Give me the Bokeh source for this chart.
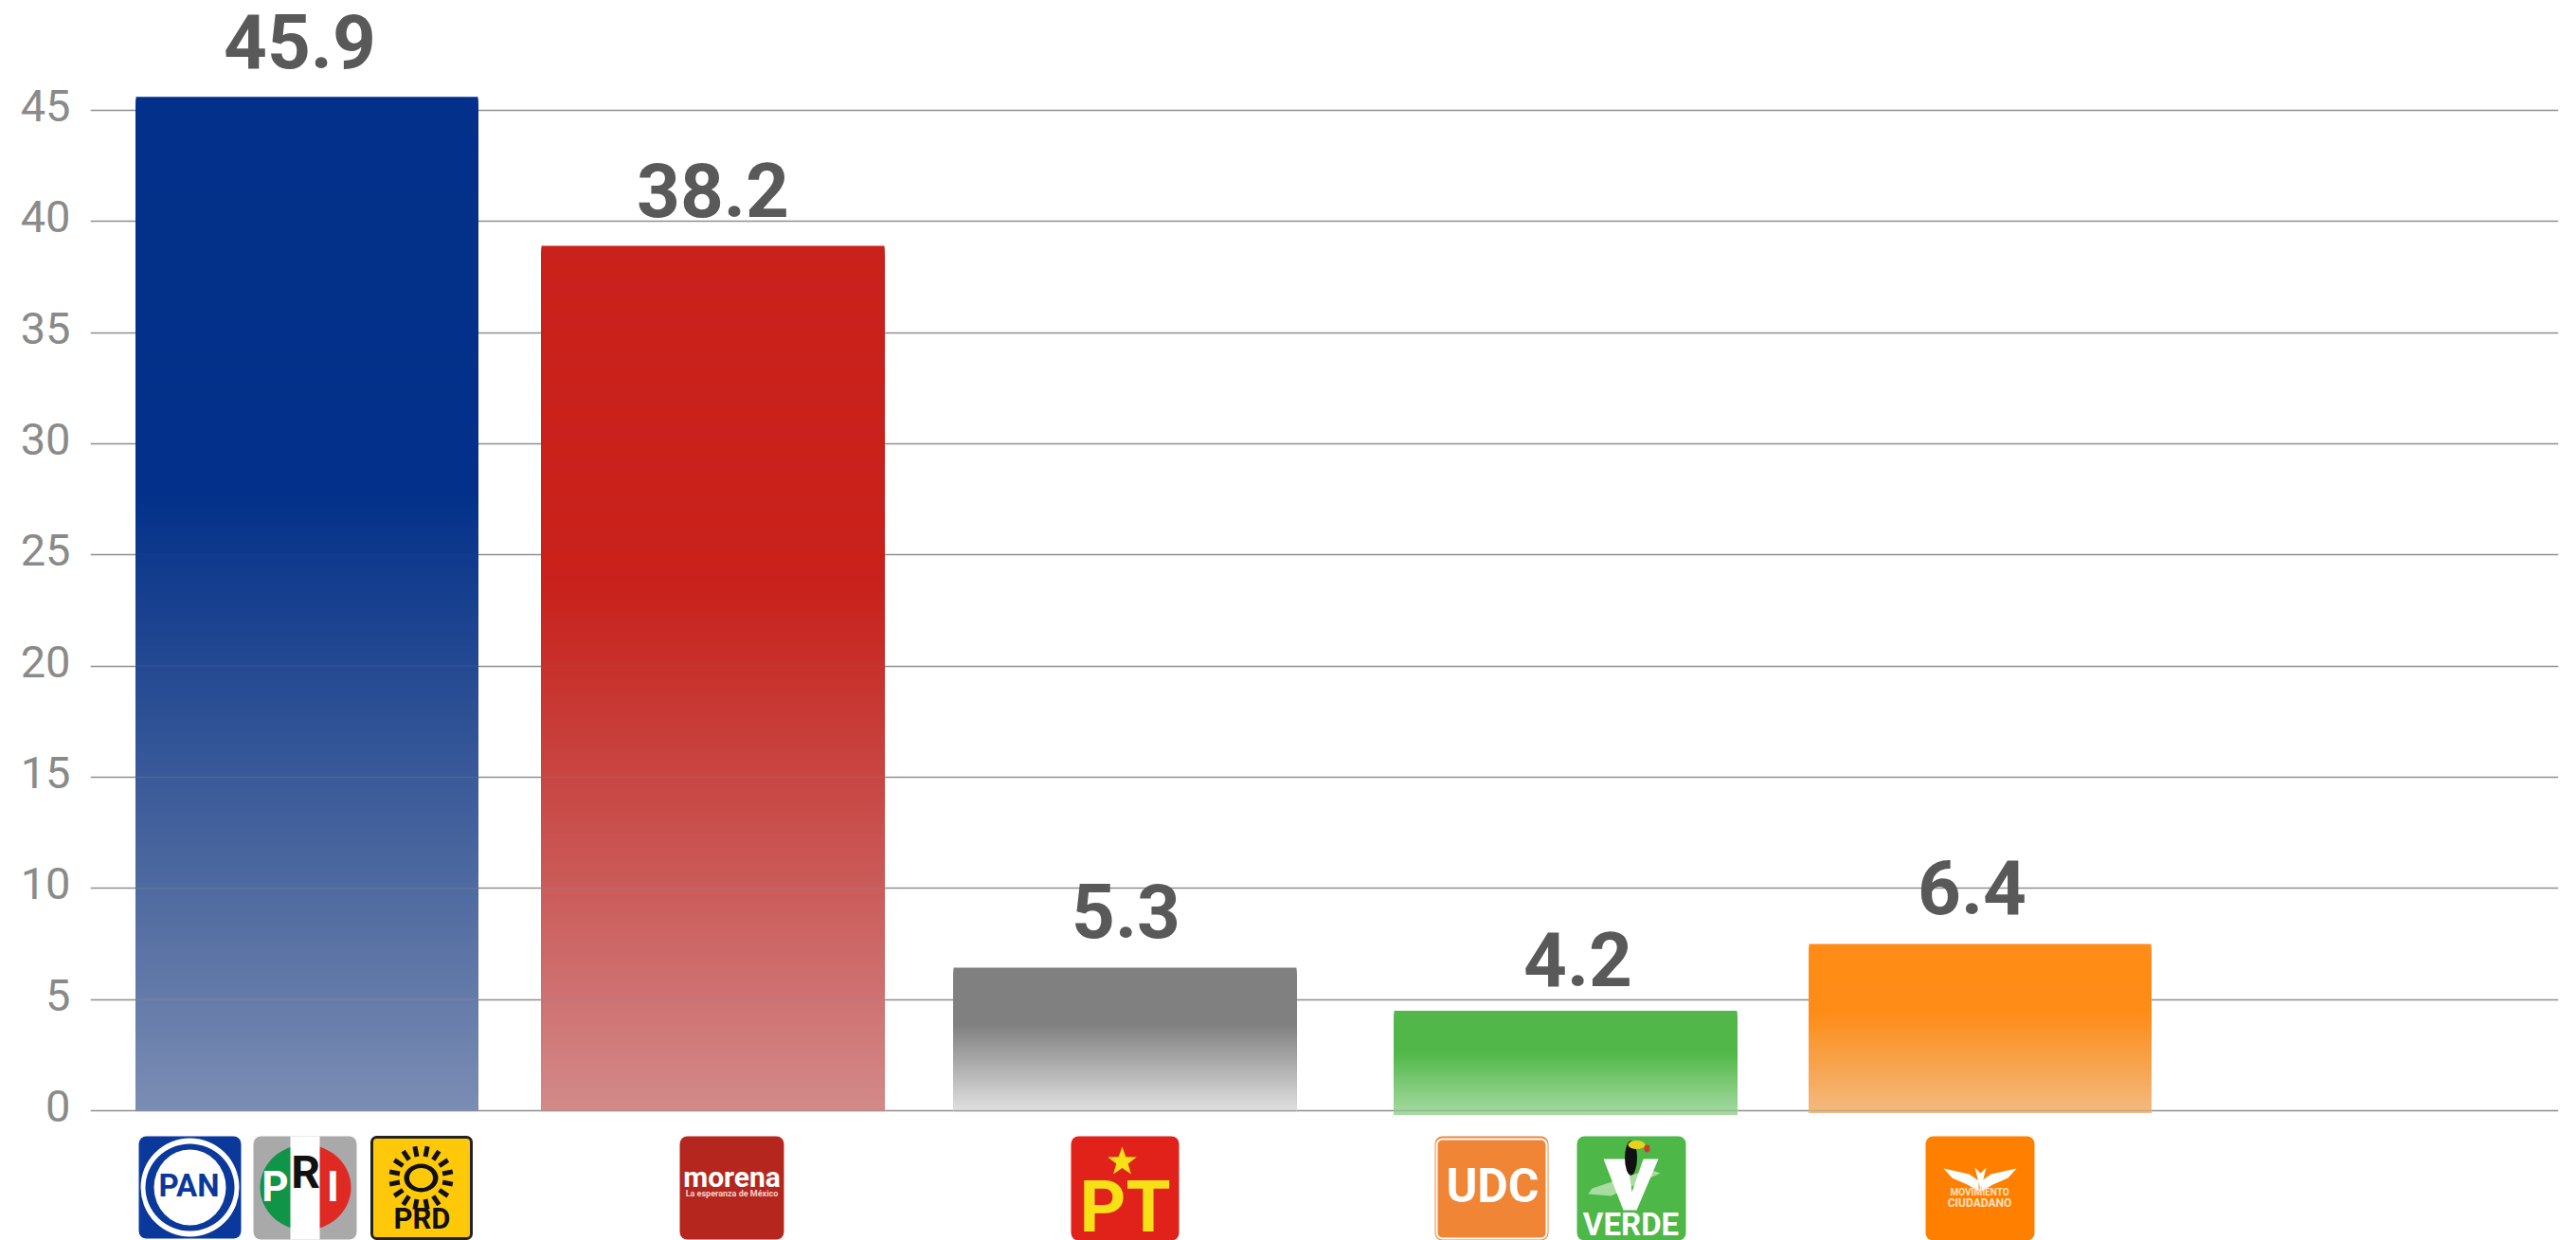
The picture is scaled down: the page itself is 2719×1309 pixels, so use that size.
import numpy as np
from bokeh.plotting import figure
from bokeh.models import Range1d, FixedTicker, LinearAxis
from bokeh.core.properties import value
from bokeh.embed import file_html
from bokeh.resources import INLINE

# ---- data ----
parties = ["PAN-PRI-PRD", "Morena", "PT", "UDC-Verde", "Movimiento Ciudadano"]
bar_tops = [45.6, 38.9, 6.43, 4.5, 7.5]
bar_bottoms = [0, 0, 0, -0.17, -0.1]
label_values = ["45.9", "38.2", "5.3", "4.2", "6.4"]
y_ticks = [0, 5, 10, 15, 20, 25, 30, 35, 40, 45]

# ---- layout & style ----
W, H = 2719, 1309
PX_PER_UNIT = 23.47
ZERO_PX = 1172
bar_lefts = [143, 571, 1006, 1471, 1909]
bar_rights = [504, 933, 1368, 1833, 2270]
label_x = [316, 752, 1188, 1665, 2081]
label_gap = [28, 28, 29, 24, 29]
top_colors = [(3, 49, 138), (201, 33, 27), (128, 128, 128), (80, 183, 72), (255, 140, 22)]
end_colors = [(1, 36, 109), (167, 21, 21), (128, 128, 128), (80, 183, 72), (235, 131, 24)]
end_alpha = [0.52, 0.5, 0.24, 0.5, 0.55]
SOLID_FRACTION = 0.39
GRID = "#8f8f8f"
TICK_LIFT_PX = 5


def Y(px):
    return (ZERO_PX - px) / PX_PER_UNIT


p = figure(width=W, height=H, output_backend="svg", toolbar_location=None,
           x_range=Range1d(95, 2700), y_range=Range1d(Y(H), Y(0)),
           min_border_left=95, min_border_right=19, min_border_top=0, min_border_bottom=0,
           outline_line_color=None, background_fill_color="white",
           border_fill_color="white")
p.xaxis.visible = False
p.yaxis.visible = False
p.xgrid.visible = False
p.ygrid.ticker = FixedTicker(ticks=y_ticks)
p.ygrid.grid_line_color = GRID
p.ygrid.grid_line_width = 1.5

# tick labels sit a little above their grid lines, so the axis has its own shifted range
p.extra_y_ranges = {"labels": Range1d(Y(H + TICK_LIFT_PX), Y(TICK_LIFT_PX))}
ax = LinearAxis(y_range_name="labels", ticker=FixedTicker(ticks=y_ticks),
                axis_line_color=None, major_tick_line_color=None, minor_tick_line_color=None,
                major_label_text_font="Roboto", major_label_text_font_size="47px",
                major_label_text_color="#8a8a8a", major_label_standoff=15)
p.add_layout(ax, "left")


def fade(i, f):
    k = max(0.0, (f - SOLID_FRACTION) / (1 - SOLID_FRACTION))
    a = 1 + (end_alpha[i] - 1) * k
    col = [u + (v - u) * k for u, v in zip(top_colors[i], end_colors[i])]
    return col, a


# gradient bars: opaque bands, each reaching down to the bar's foot, painted top first
for i in range(len(parties)):
    top = bar_tops[i]
    bot = bar_bottoms[i]
    n = int((top - bot) * PX_PER_UNIT / 2) + 1
    l, r, t, b, c = [], [], [], [], []
    for j in range(n):
        f = j / n
        col, a = fade(i, f)
        rgb = [int(round(a * u + (1 - a) * 255)) for u in col]
        l.append(bar_lefts[i]); r.append(bar_rights[i])
        t.append(top + (bot - top) * f); b.append(bot)
        c.append("#%02x%02x%02x" % tuple(rgb))
    p.quad(left=l, right=r, top=t, bottom=b, fill_color=c, line_color=None)
    # grid lines showing through the translucent part of the bar
    for tk in y_ticks:
        if bot <= tk <= top:
            col, a = fade(i, (top - tk) / (top - bot))
            if a < 1:
                p.segment(x0=[bar_lefts[i]], x1=[bar_rights[i]], y0=[tk], y1=[tk],
                          line_color=GRID, line_width=1.5, line_alpha=1 - a)


# ---- texts ----
def txt(cx, base, s, size, color, font="Roboto", style="bold"):
    lift = 6 + 0.31 * size   # the renderer draws "alphabetic" text below the anchor
    p.text(x=[cx], y=[Y(base - lift)], text=[s], text_font=value(font), text_font_size=f"{size}px",
           text_font_style=style, text_color=color, text_align="center", text_baseline="alphabetic")


for i in range(len(parties)):
    base_px = ZERO_PX - bar_tops[i] * PX_PER_UNIT - label_gap[i]
    txt(label_x[i], base_px, label_values[i], 80, "#595959")


# ---- party logos (decoration, placed in screen pixels) ----
def box(x0, y0, x1, y1, color, radius=8, line=None, lw=1):
    p.quad(left=[x0], right=[x1], top=[Y(y0)], bottom=[Y(y1)], fill_color=color,
           line_color=line, line_width=lw, border_radius=radius)


def oval(cx, cy, w, h, color):
    p.ellipse(x=[cx], y=[Y(cy)], width=[w], height=[h / PX_PER_UNIT], fill_color=color, line_color=None)


def poly(xs, ys, color):
    p.patch(x=list(xs), y=[Y(v) for v in ys], fill_color=color, line_color=None)


# PAN
box(146, 1199, 254, 1307, "#0b399b")
oval(200, 1253, 104, 104, "white")
oval(200, 1253, 94, 92, "#0b399b")
oval(200, 1253, 76, 80, "white")
txt(199, 1267, "PAN", 33, "#0b399b")

# PRI
box(267, 1199, 376, 1308, "#a9a9a9")
ang = np.linspace(np.pi / 2, 3 * np.pi / 2, 40)
poly(322 + 48 * np.cos(ang), 1253 + 45 * np.sin(ang), "#0f9448")
poly(322 - 48 * np.cos(ang), 1253 + 45 * np.sin(ang), "#df2a24")
box(306, 1199, 337, 1308, "white", radius=0)
txt(290, 1272, "P", 44, "white")
txt(322, 1258, "R", 48, "#111111")
txt(351, 1272, "I", 44, "white")

# PRD
box(392, 1200, 497, 1307, "#ffc90a", radius=5, line="#222222", lw=3)
ray = np.arange(16) * np.pi / 8 + np.pi / 16
p.segment(x0=444 + 23 * np.cos(ray), y0=[Y(v) for v in 1243 + 23 * np.sin(ray)],
          x1=444 + 34 * np.cos(ray), y1=[Y(v) for v in 1243 + 34 * np.sin(ray)],
          line_color="#111111", line_width=5)
oval(444, 1243, 36, 30, "#111111")
oval(444, 1243, 25, 21, "#ffc90a")
txt(445, 1302, "PRD", 31, "#111111")

# morena
box(717, 1199, 827, 1308, "#b5261e")
txt(772, 1257, "morena", 30, "white")
txt(772, 1268, "La esperanza de México", 9, "#f3d0cd")

# PT
box(1130, 1199, 1244, 1309, "#e0221a")
sa = np.arange(10) * np.pi / 5 - np.pi / 2
sr = np.where(np.arange(10) % 2 == 0, 16, 6.5)
poly(1184 + sr * np.cos(sa), 1226 + sr * np.sin(sa), "#f7e015")
txt(1187, 1303, "PT", 76, "#f7e015")

# UDC
box(1514, 1199, 1634, 1309, "#f08535")
box(1516, 1202, 1632, 1307, "#f08535", radius=6, line="white", lw=2)
txt(1575, 1273, "UDC", 50, "white")

# VERDE
box(1664, 1199, 1779, 1309, "#4db748")
poly([1680, 1740, 1752, 1700, 1676], [1254, 1234, 1238, 1262, 1260], "#a9dca0")
poly([1692, 1717, 1722, 1734, 1750, 1727, 1713], [1223, 1223, 1258, 1223, 1223, 1277, 1277], "white")
oval(1721, 1222, 13, 36, "#111111")
oval(1727, 1208, 18, 9, "#e8d21a")
oval(1738, 1212, 6, 8, "#d9362b")
txt(1721, 1308, "VERDE", 33, "white")

# Movimiento Ciudadano
box(2032, 1199, 2147, 1309, "#ff8000")
poly([2051, 2078, 2088, 2088, 2076, 2060], [1233, 1239, 1246, 1257, 1250, 1243], "white")
poly([2128, 2101, 2091, 2091, 2103, 2119], [1233, 1239, 1246, 1257, 1250, 1243], "white")
poly([2084, 2090, 2096, 2090], [1232, 1238, 1232, 1256], "white")
txt(2089, 1267, "MOVIMIENTO", 10, "#ffe2c4")
txt(2089, 1279, "CIUDADANO", 12, "#ffe2c4")

open("out.html", "w").write(file_html(p, INLINE))
